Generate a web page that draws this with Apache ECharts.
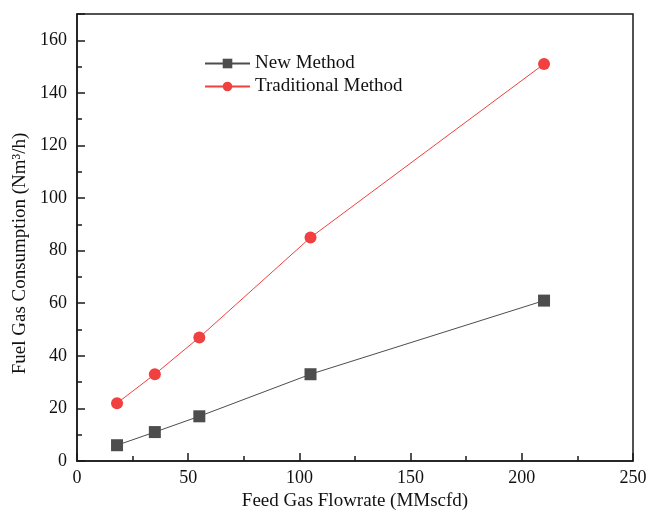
<!DOCTYPE html>
<html>
<head>
<meta charset="utf-8">
<script src="https://cdn.jsdelivr.net/npm/echarts@6/dist/echarts.min.js"></script>
<style>
  html, body { margin: 0; padding: 0; background: #fff; }
  #main { width: 649px; height: 514px; }
</style>
</head>
<body>
<div id="main"></div>
<script>
// feed gas flowrate (MMscfd)
const flowrate = [18, 35, 55, 105, 210];
// fuel gas consumption (Nm3/h)
const newMethod = [6, 11, 17, 33, 61];
const traditionalMethod = [22, 33, 47, 85, 151];

const pairs = (xs, ys) => xs.map((x, i) => [x, ys[i]]);

const chart = echarts.init(document.getElementById('main'), null, { renderer: 'canvas' });
const font = 'Liberation Serif';
const axisColor = '#1a1a1a';

let option = {
  backgroundColor: '#fff',
  textStyle: { fontFamily: font },
  grid: {
    left: 77, right: 16, top: 14, bottom: 53,
    show: true, borderColor: axisColor, borderWidth: 1.5,
    outerBoundsMode: 'none'
  },
  legend: {
    left: 199, top: 49, orient: 'vertical',
    itemWidth: 45, itemHeight: 12, itemGap: 4,
    textStyle: { fontFamily: font, fontSize: 19, color: '#111' },
    data: ['New Method', 'Traditional Method']
  },
  xAxis: {
    type: 'value', min: 0, max: 250, interval: 50,
    name: 'Feed Gas Flowrate (MMscfd)', nameLocation: 'middle', nameGap: 31,
    nameTextStyle: { fontFamily: font, fontSize: 19, color: '#111' },
    axisLine: { show: true, lineStyle: { color: axisColor, width: 1.5 } },
    axisTick: { show: true, inside: true, length: 8, lineStyle: { color: axisColor, width: 1.5 } },
    minorTick: { show: true, splitNumber: 2, length: 5, lineStyle: { color: axisColor, width: 1.5 } },
    axisLabel: { fontFamily: font, fontSize: 18, color: '#111', margin: 8 },
    splitLine: { show: false }
  },
  yAxis: {
    type: 'value', min: 0, max: 170, interval: 20,
    name: 'Fuel Gas Consumption (Nm³/h)', nameLocation: 'middle', nameGap: 46, nameRotate: 90,
    nameTextStyle: { fontFamily: font, fontSize: 19, color: '#111', padding: [0, 32, 0, 0] },
    axisLine: { show: true, lineStyle: { color: axisColor, width: 1.5 } },
    axisTick: { show: true, inside: true, length: 8, lineStyle: { color: axisColor, width: 1.5 } },
    minorTick: { show: true, splitNumber: 2, length: 5, lineStyle: { color: axisColor, width: 1.5 } },
    axisLabel: { fontFamily: font, fontSize: 18, color: '#111', margin: 10, showMaxLabel: false },
    splitLine: { show: false }
  },
  series: [
    {
      name: 'New Method', type: 'line',
      data: pairs(flowrate, newMethod),
      symbol: 'rect', symbolSize: 12,
      itemStyle: { color: '#4d4d4d' },
      lineStyle: { color: '#4d4d4d', width: 1 }
    },
    {
      name: 'Traditional Method', type: 'line',
      data: pairs(flowrate, traditionalMethod),
      symbol: 'circle', symbolSize: 12,
      itemStyle: { color: '#f04040' },
      lineStyle: { color: '#f04040', width: 1 }
    }
  ]
};

chart.setOption(option);
</script>
</body>
</html>
